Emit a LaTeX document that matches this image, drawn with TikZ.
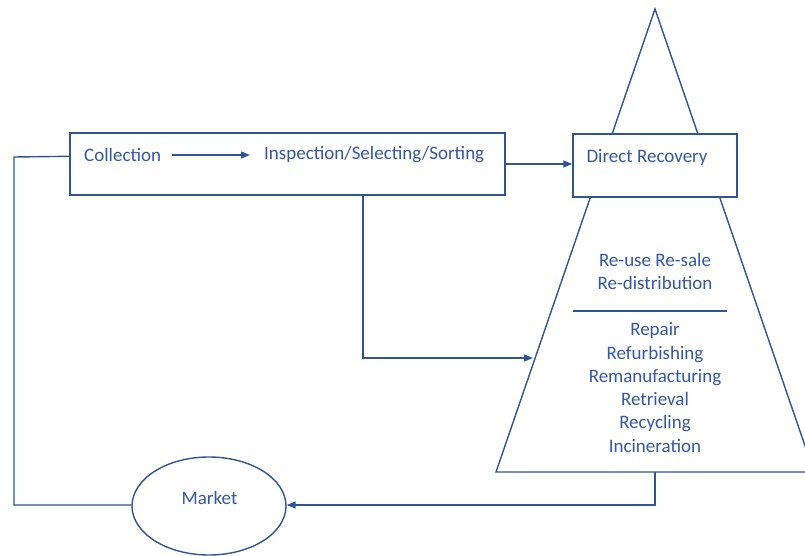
\documentclass[tikz,border=0pt]{standalone}
\usepackage{fontspec}
\setmainfont{Carlito}
\usetikzlibrary{arrows.meta,shapes.geometric}
\definecolor{lc}{HTML}{2F5597}
\definecolor{tc}{HTML}{3558A4}
\tikzset{
  ln/.style={draw=lc, line width=1.4pt},
  arr/.style={ln, -{Triangle[length=9pt,width=7pt]}},
  txt/.style={text=tc, font={\fontsize{19}{23.3}\selectfont}, inner sep=0pt},
  boxn/.style={ln, fill=white, rectangle, inner sep=0pt},
}
\begin{document}
\begin{tikzpicture}[x=1pt,y=-1pt]
\useasboundingbox (0,0) rectangle (805,556);
\begin{scope}
\clip (0,0) rectangle (805,556);
% triangle / trapezoid
\coordinate (apex) at (655,9);
\coordinate (bl) at (496,472);
\coordinate (br) at (814,472);
\draw[ln, line join=miter] (apex) -- (br) -- (bl) -- cycle;
% direct recovery box
\node[boxn, minimum width=164pt, minimum height=63pt] (dr) at (655,165.5) {};
\node[txt] (drt) at (647,157) {Direct Recovery};
% top box
\node[boxn, minimum width=435pt, minimum height=62pt] (top) at (287.5,164) {};
\node[txt, anchor=west] (coll) at (84,155) {Collection};
\node[txt, anchor=west] (insp) at (264,155) {Inspection/Selecting/Sorting};
\draw[arr] ([xshift=11pt]coll.east) -- ([xshift=-14pt]insp.west);
% trapezoid text
\node[txt, align=center] (reuse) at (655,271.5) {Re-use Re-sale\\Re-distribution};
\coordinate (sepl) at (573,311);
\coordinate (sepr) at (727,311);
\draw[ln] (sepl) -- (sepr);
\node[txt, align=center] (rec) at (655,387.5) {Repair\\Refurbishing\\Remanufacturing\\Retrieval\\Recycling\\Incineration};
% market
\node[ln, ellipse, minimum width=154pt, minimum height=98pt, inner sep=0pt] (mk) at (209,506) {};
\node[txt] (mkt) at (209.5,498) {Market};
% connectors
\coordinate (l1) at (14,157);
\coordinate (l2) at (14,505);
\draw[ln] ([yshift=-24pt]top.north west) -- (l1) -- (l2) -- (l2 -| mk.west);
\draw[arr] (top.east) -- (top.east -| dr.west);
\coordinate (d1) at (363,358);
\coordinate (d2) at (533,358);
\draw[arr] (363,195) -- (d1) -- (d2);
\coordinate (m1) at (655,472);
\coordinate (m2) at (655,505);
\draw[arr] (m1) -- (m2) -- (m2 -| mk.east);
\end{scope}
\end{tikzpicture}
\end{document}
